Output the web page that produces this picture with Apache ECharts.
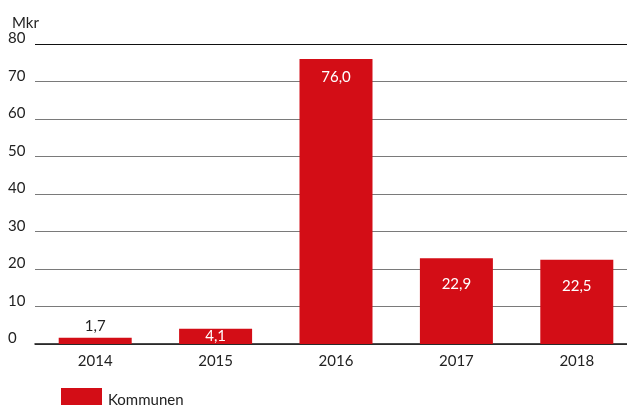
<!DOCTYPE html>
<html>
<head>
<meta charset="utf-8">
<script src="https://cdn.jsdelivr.net/npm/echarts@6/dist/echarts.min.js"></script>
<style>
  html, body { margin: 0; padding: 0; background: #ffffff; overflow: hidden; }
  #chart { width: 640px; height: 405px; }
</style>
</head>
<body>
<div id="chart"></div>
<script>
// data
const years = ['2014', '2015', '2016', '2017', '2018'];
const kommunen = [1.7, 4.1, 76.0, 22.9, 22.5];
const yTicks = [0, 10, 20, 30, 40, 50, 60, 70, 80];

const red = '#d30d16';
const fontFamily = 'Lato, "Open Sans", sans-serif';

// label placement per bar (small bars outside / inside)
const labelPos = ['top', 'inside', 'insideTop', 'insideTop', 'insideTop'];
const labelDist = [4, 5, 11, 19, 19];
const labelColor = ['#222222', '#ffffff', '#ffffff', '#ffffff', '#ffffff'];

let myChart = echarts.init(document.getElementById('chart'));
myChart.setOption({
  animation: false,
  textStyle: { fontFamily: fontFamily },
  title: {
    text: 'Mkr',
    left: 7,
    top: 11,
    textStyle: { fontSize: 15, fontWeight: 'normal', color: '#222222', fontFamily: fontFamily }
  },
  grid: { left: 35, top: 44, width: 602, height: 300, containLabel: false },
  legend: {
    left: 61,
    top: 388,
    padding: 0,
    itemWidth: 41,
    itemHeight: 24,
    itemGap: 10,
    icon: 'rect',
    data: ['Kommunen'],
    textStyle: { fontSize: 15, color: '#222222', fontFamily: fontFamily, padding: [0, 0, 0, 1] }
  },
  xAxis: {
    type: 'category',
    data: years,
    axisLine: { lineStyle: { color: '#111111', width: 1.5 } },
    axisTick: { show: false },
    axisLabel: { fontSize: 15, color: '#222222', margin: 10 }
  },
  yAxis: {
    type: 'value',
    min: yTicks[0],
    max: yTicks[yTicks.length - 1],
    interval: 10,
    axisLine: { show: false },
    axisTick: { show: false },
    axisLabel: { fontSize: 15, color: '#222222', align: 'left', margin: 27, verticalAlign: 'bottom', padding: [0, 0, -2, 0] },
    splitLine: {
      lineStyle: {
        color: yTicks.map((t, i) => (i === yTicks.length - 1 ? '#111111' : '#7a7a7a')),
        width: 1.2
      }
    }
  },
  series: [
    {
      name: 'Kommunen',
      type: 'bar',
      barWidth: 73,
      itemStyle: { color: red },
      data: kommunen.map((v, i) => ({
        value: v,
        label: {
          show: true,
          position: labelPos[i],
          distance: labelDist[i],
          color: labelColor[i],
          fontSize: 15,
          formatter: p => p.value.toFixed(1).replace('.', ',')
        }
      }))
    }
  ]
});
</script>
</body>
</html>
